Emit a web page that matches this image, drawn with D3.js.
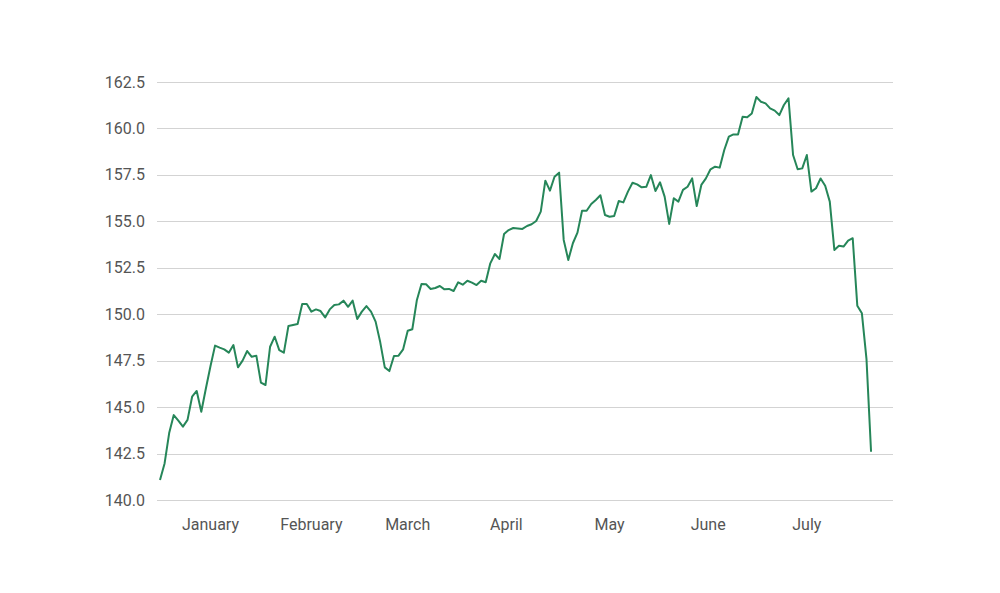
<!DOCTYPE html>
<html>
<head>
<meta charset="utf-8">
<script src="https://cdn.jsdelivr.net/npm/d3@7"></script>
<style>
  body { margin: 0; background: #fff; }
  .tick-label { font-family: Roboto, "Liberation Sans", sans-serif; font-size: 16px; fill: #555; }
</style>
</head>
<body>
<div id="vis"></div>
<script>
// daily closes, one per weekday (index 0 = first trading day)
var values = [
  141.08, 141.97, 143.6, 144.57, 144.27, 143.95, 144.31, 145.56, 145.87, 144.75,
  146.0, 147.2, 148.31, 148.2, 148.11, 147.93, 148.34, 147.14, 147.5, 148.02,
  147.71, 147.77, 146.32, 146.19, 148.25, 148.79, 148.07, 147.93, 149.37, 149.42,
  149.47, 150.55, 150.55, 150.14, 150.26, 150.17, 149.83, 150.26, 150.5, 150.53,
  150.73, 150.4, 150.73, 149.74, 150.14, 150.44, 150.14, 149.6, 148.5, 147.14,
  146.94, 147.75, 147.77, 148.11, 149.11, 149.19, 150.77, 151.63, 151.61, 151.36,
  151.41, 151.52, 151.34, 151.36, 151.25, 151.72, 151.59, 151.8, 151.7, 151.57,
  151.8, 151.72, 152.74, 153.24, 152.97, 154.32, 154.53, 154.64, 154.62, 154.59,
  154.75, 154.84, 155.02, 155.52, 157.19, 156.65, 157.4, 157.62, 154.0, 152.92,
  153.82, 154.39, 155.57, 155.57, 155.93, 156.15, 156.4, 155.34, 155.25, 155.29,
  156.09, 156.02, 156.6, 157.08, 156.99, 156.83, 156.86, 157.49, 156.63, 157.1,
  156.33, 154.86, 156.24, 156.06, 156.69, 156.86, 157.31, 155.82, 156.96, 157.31,
  157.8, 157.94, 157.89, 158.84, 159.56, 159.68, 159.68, 160.63, 160.6, 160.81,
  161.69, 161.44, 161.35, 161.08, 160.96, 160.72, 161.26, 161.62, 158.57, 157.8,
  157.85, 158.57, 156.6, 156.78, 157.31, 156.92, 156.06, 153.46, 153.69, 153.64,
  153.96, 154.09, 150.46, 150.05, 147.6, 142.6
];

// months and the index of their first trading day
var months = ['January', 'February', 'March', 'April', 'May', 'June', 'July'];
var monthStart = [0, 23, 44, 65, 87, 110, 130, 153];

var yTicks = [140, 142.5, 145, 147.5, 150, 152.5, 155, 157.5, 160, 162.5];

var width = 1000;
var height = 593;

var svg = d3.select('#vis').append('svg')
  .attr('width', width)
  .attr('height', height);

var x = d3.scaleLinear()
  .domain([0, 160])
  .range([160, 894]);

var y = d3.scaleLinear()
  .domain([140, 162.5])
  .range([500, 82]);

// horizontal grid
svg.append('g')
  .selectAll('line')
  .data(yTicks)
  .enter()
  .append('line')
  .attr('x1', 157)
  .attr('x2', 893)
  .attr('y1', function (d) { return Math.round(y(d)) + 0.5; })
  .attr('y2', function (d) { return Math.round(y(d)) + 0.5; })
  .attr('stroke', '#d3d3d3')
  .attr('stroke-width', 1);

// y labels
svg.append('g')
  .selectAll('text')
  .data(yTicks)
  .enter()
  .append('text')
  .attr('class', 'tick-label')
  .attr('x', 145)
  .attr('y', function (d) { return y(d); })
  .attr('dy', '0.35em')
  .attr('text-anchor', 'end')
  .text(function (d) { return d.toFixed(1); });

// month labels, centred on each month's trading days
svg.append('g')
  .selectAll('text')
  .data(months)
  .enter()
  .append('text')
  .attr('class', 'tick-label')
  .attr('x', function (d, i) {
    return x((monthStart[i] + monthStart[i + 1] - 1) / 2);
  })
  .attr('y', 530)
  .attr('text-anchor', 'middle')
  .text(function (d) { return d; });

var line = d3.line()
  .x(function (d, i) { return x(i); })
  .y(function (d) { return y(d); });

svg.append('path')
  .datum(values)
  .attr('d', line)
  .attr('fill', 'none')
  .attr('stroke', '#268659')
  .attr('stroke-width', 2)
  .attr('stroke-linejoin', 'round');
</script>
</body>
</html>
